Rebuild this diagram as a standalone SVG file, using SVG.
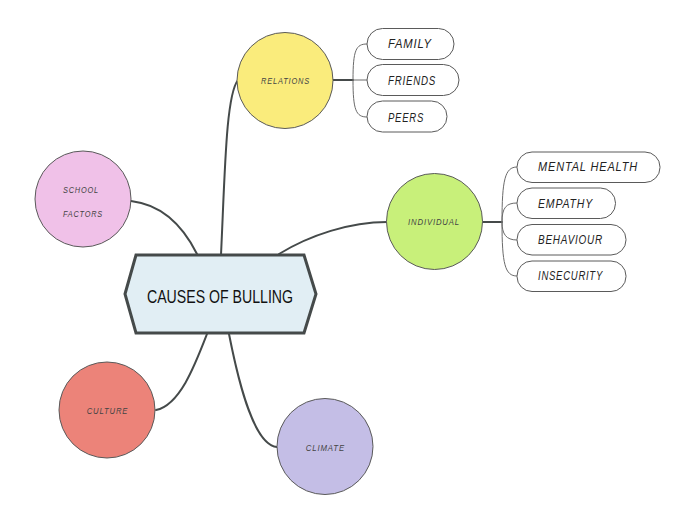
<svg xmlns="http://www.w3.org/2000/svg" width="696" height="520" viewBox="0 0 696 520">
<style>
.conn{fill:none;stroke:#454a4a;stroke-width:2;stroke-linecap:round}
.br{fill:none;stroke:#6a6a6a;stroke-width:1}
.topic{stroke:#5a5a5a;stroke-width:1}
.pill{fill:#ffffff;stroke:#5a5a5a;stroke-width:1}
.lbl{font-family:"Liberation Sans",Arial,sans-serif;font-size:9px;font-style:italic;fill:#444;letter-spacing:1px}
.sub{font-family:"Liberation Sans",Arial,sans-serif;font-size:13px;font-style:italic;fill:#222;letter-spacing:1px}
.title{font-family:"Liberation Sans",Arial,sans-serif;font-size:18px;fill:#111}
</style>
<rect width="696" height="520" fill="#ffffff"/>
<g id="connectors">
<path class="conn" d="M221,255 C225,170 226,95 238,80"/>
<path class="conn" d="M279,254 C310,235 350,222 387,222"/>
<path class="conn" d="M131,201 C165,205 185,230 197,254"/>
<path class="conn" d="M207,334 C195,365 180,405 156,410"/>
<path class="conn" d="M229,334 C240,390 255,445 277,447"/>
<path class="conn" d="M333,80 L353,80"/>
<path class="conn" d="M482,222 L502,222"/>
<path class="br" d="M353,80 C353,50 356,44 367,44"/>
<path class="br" d="M353,80 L367,80"/>
<path class="br" d="M353,80 C353,110 356,117 367,117"/>
<path class="br" d="M502,222 C502,180 505,167 517,167"/>
<path class="br" d="M502,222 C502,208 506,203 517,203"/>
<path class="br" d="M502,222 C502,234 506,240 517,240"/>
<path class="br" d="M502,222 C502,264 505,276 517,276"/>
</g>
<g id="central">
<polygon points="125,294 136,255 304,255 316,294 304,333 136,333" fill="#e1eef4" stroke="#454a4a" stroke-width="3" stroke-linejoin="miter"/>
<text class="title" x="147" y="302.5" textLength="146" lengthAdjust="spacingAndGlyphs">CAUSES OF BULLING</text>
</g>
<g id="relations">
<circle class="topic" cx="285" cy="80.5" r="48" fill="#faec7c"/>
<text class="lbl" x="261" y="84" textLength="49" lengthAdjust="spacingAndGlyphs">RELATIONS</text>
</g>
<g id="family">
<rect class="pill" x="367" y="28.5" width="87" height="31" rx="15.5"/>
<text class="sub" x="388" y="48.3" textLength="44" lengthAdjust="spacingAndGlyphs">FAMILY</text>
</g>
<g id="friends">
<rect class="pill" x="367" y="64.5" width="92" height="31" rx="15.5"/>
<text class="sub" x="388" y="85" textLength="48" lengthAdjust="spacingAndGlyphs">FRIENDS</text>
</g>
<g id="peers">
<rect class="pill" x="367" y="101" width="80" height="31" rx="15.5"/>
<text class="sub" x="388" y="121.7" textLength="36" lengthAdjust="spacingAndGlyphs">PEERS</text>
</g>
<g id="individual">
<circle class="topic" cx="434.5" cy="221.5" r="48" fill="#c8f07a"/>
<text class="lbl" x="408" y="225" textLength="52" lengthAdjust="spacingAndGlyphs">INDIVIDUAL</text>
</g>
<g id="mental-health">
<rect class="pill" x="517" y="152" width="143" height="30.5" rx="15"/>
<text class="sub" x="538" y="171" textLength="100" lengthAdjust="spacingAndGlyphs">MENTAL HEALTH</text>
</g>
<g id="empathy">
<rect class="pill" x="517" y="188" width="98.5" height="30.5" rx="15"/>
<text class="sub" x="538" y="207.5" textLength="55" lengthAdjust="spacingAndGlyphs">EMPATHY</text>
</g>
<g id="behaviour">
<rect class="pill" x="517" y="224.5" width="109" height="30.5" rx="15"/>
<text class="sub" x="538" y="244" textLength="65" lengthAdjust="spacingAndGlyphs">BEHAVIOUR</text>
</g>
<g id="insecurity">
<rect class="pill" x="517" y="261" width="109" height="30.5" rx="15"/>
<text class="sub" x="538" y="280" textLength="65" lengthAdjust="spacingAndGlyphs">INSECURITY</text>
</g>
<g id="school-factors">
<circle class="topic" cx="83" cy="199" r="48" fill="#f0c1e8"/>
<text class="lbl" x="63" y="193.3" textLength="36" lengthAdjust="spacingAndGlyphs">SCHOOL</text>
<text class="lbl" x="63" y="217.3" textLength="40" lengthAdjust="spacingAndGlyphs">FACTORS</text>
</g>
<g id="culture">
<circle class="topic" cx="107" cy="410" r="48" fill="#ec8379"/>
<text class="lbl" x="86.7" y="414" textLength="41.6" lengthAdjust="spacingAndGlyphs">CULTURE</text>
</g>
<g id="climate">
<circle class="topic" cx="325" cy="446.5" r="48" fill="#c4bee6"/>
<text class="lbl" x="305.7" y="451" textLength="39.3" lengthAdjust="spacingAndGlyphs">CLIMATE</text>
</g>
</svg>
